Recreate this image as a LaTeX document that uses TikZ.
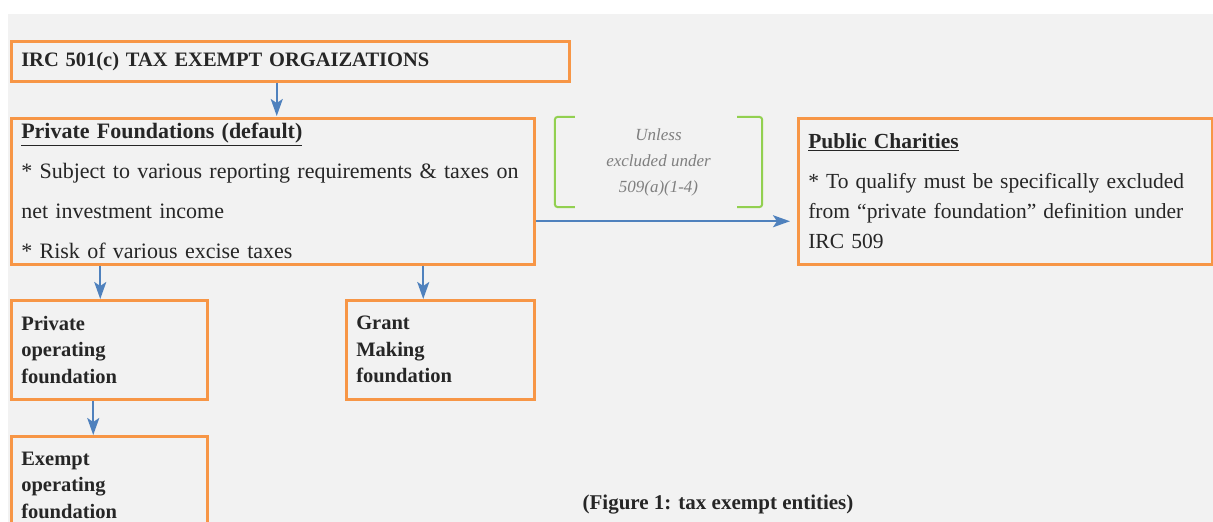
\documentclass[tikz,border=0pt]{standalone}
\usepackage{fontspec}
\setmainfont{Liberation Serif}
\usetikzlibrary{arrows.meta}
\definecolor{boxorange}{HTML}{F79646}
\definecolor{arrblue}{HTML}{4F81BD}
\definecolor{brgreen}{HTML}{92D050}
\definecolor{pagegray}{HTML}{F2F2F2}
\definecolor{inkgray}{HTML}{262626}
\definecolor{notegray}{HTML}{7F7F7F}

\begin{document}
\begin{tikzpicture}[x=1pt,y=-1pt,text=inkgray,
   box/.style={draw=boxorange,line width=2.5pt,anchor=north west,align=left,
     inner xsep=10pt,inner ysep=0pt},
   arr/.style={draw=arrblue,line width=2.2pt,-{Stealth[length=17pt,width=12pt,inset=4pt]}},
   bodyfont/.style={font=\fontsize{22}{40}\selectfont},
   smallfont/.style={font=\fontsize{20.5}{26.5}\selectfont\bfseries}]
  % page: white margin top and left, grey sheet behind the chart
  \useasboundingbox (0,0) rectangle (1213,522);
  \fill[pagegray] (8,14) rectangle (1213,522);

  % ---- top level ----
  \node[box,text width=538pt,minimum height=40pt,font=\fontsize{20.5}{24}\selectfont\bfseries]
     (irc) at (10,40) {IRC 501(c) TAX EXEMPT ORGAIZATIONS};

  % ---- private foundations (default) ----
  \node[box,text width=503pt,minimum height=146pt,bodyfont] (pf) at (10,117)
     {\textbf{\underline{Private Foundations (default)}}\\
      {*} Subject to various reporting requirements \& taxes on\\
      net investment income\\
      {*} Risk of various excise taxes};

  % ---- public charities ----
  \node[box,text width=394pt,minimum height=146pt,font=\fontsize{21.5}{30}\selectfont] (pc) at (797,117)
     {\textbf{\underline{Public Charities}}\\[10pt]
      {*} To qualify must be specifically excluded\\
      from “private foundation” definition under\\
      IRC 509};

  % ---- exclusion note between brackets ----
  \node[align=center,text=notegray,minimum width=207pt,minimum height=90pt,
     font=\fontsize{17}{26}\selectfont\itshape] (excl) at (658.5,162)
     {Unless\\ excluded under\\ 509(a)(1-4)};
  \draw[brgreen,line width=2pt,rounded corners=3pt]
     ([xshift=20pt]excl.north west) -- (excl.north west) -- (excl.south west) -- ([xshift=20pt]excl.south west);
  \draw[brgreen,line width=2pt,rounded corners=3pt]
     ([xshift=-25pt]excl.north east) -- (excl.north east) -- (excl.south east) -- ([xshift=-25pt]excl.south east);

  % ---- second level ----
  \node[box,text width=176pt,minimum height=99pt,smallfont] (pof) at (10,299)
     {Private\\ operating\\ foundation};
  \node[box,text width=168pt,minimum height=99pt,smallfont] (gmf) at (345,299)
     {Grant\\ Making\\ foundation};

  % ---- third level (runs off the sheet) ----
  \node[box,text width=176pt,minimum height=98pt,smallfont] (eof) at (10,435)
     {Exempt\\ operating\\ foundation};

  % ---- caption ----
  \node[font=\fontsize{21}{24}\selectfont\bfseries] (cap) at (718,505) {(Figure 1: tax exempt entities)};

  % ---- connectors ----
  \draw[arr,shorten >=1pt] ([xshift=4pt]pf.north |- irc.south) -- ([xshift=4pt]pf.north);
  \draw[arr,shorten >=7pt] ([yshift=-30pt]pf.east) -- ([yshift=-30pt]pc.west);
  \draw[arr] ([xshift=-9pt]pof.north |- pf.south) -- ([xshift=-9pt]pof.north);
  \draw[arr] ([xshift=-17pt]gmf.north |- pf.south) -- ([xshift=-17pt]gmf.north);
  \draw[arr] ([xshift=-16pt]eof.north |- pof.south) -- ([xshift=-16pt]eof.north);
\end{tikzpicture}
\end{document}
